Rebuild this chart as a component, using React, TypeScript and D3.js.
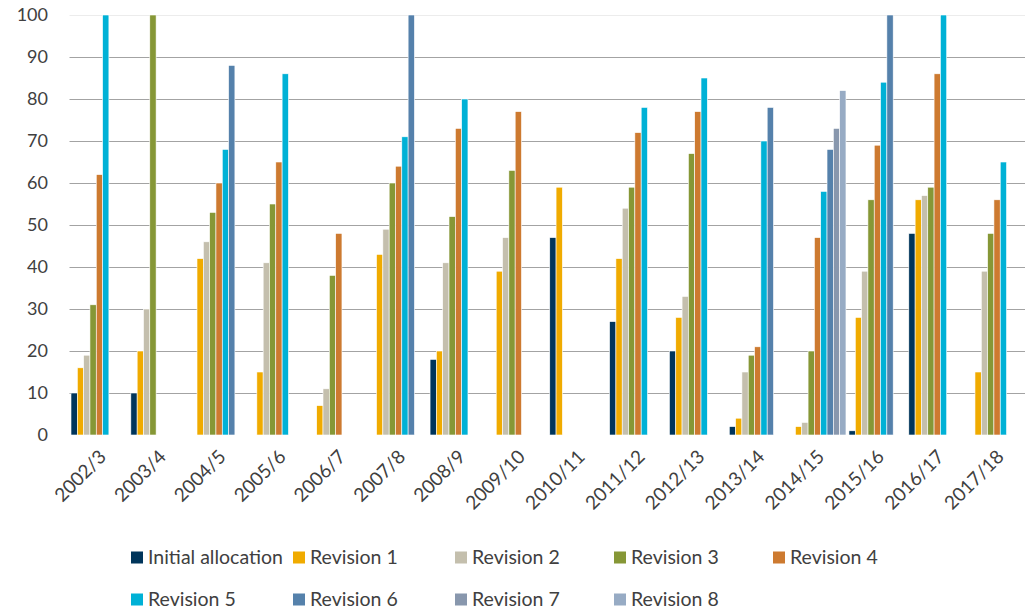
import { useEffect, useRef } from 'react';
import * as d3 from 'd3';

const categories = ['2002/3', '2003/4', '2004/5', '2005/6', '2006/7', '2007/8', '2008/9', '2009/10',
  '2010/11', '2011/12', '2012/13', '2013/14', '2014/15', '2015/16', '2016/17', '2017/18'];

const seriesNames = ['Initial allocation', 'Revision 1', 'Revision 2', 'Revision 3', 'Revision 4',
  'Revision 5', 'Revision 6', 'Revision 7', 'Revision 8'];

const seriesColors = ['#00355b', '#f0ab00', '#c4bfad', '#869736', '#cd7a30', '#00b1d6', '#5581ab', '#8897ad', '#97abc4'];

// 0 = no bar in that year
const initialAllocation = [10, 10, 0, 0, 0, 0, 18, 0, 47, 27, 20, 2, 0, 1, 48, 0];
const revision1 = [16, 20, 42, 15, 7, 43, 20, 39, 59, 42, 28, 4, 2, 28, 56, 15];
const revision2 = [19, 30, 46, 41, 11, 49, 41, 47, 0, 54, 33, 15, 3, 39, 57, 39];
const revision3 = [31, 100, 53, 55, 38, 60, 52, 63, 0, 59, 67, 19, 20, 56, 59, 48];
const revision4 = [62, 0, 60, 65, 48, 64, 73, 77, 0, 72, 77, 21, 47, 69, 86, 56];
const revision5 = [100, 0, 68, 86, 0, 71, 80, 0, 0, 78, 85, 70, 58, 84, 100, 65];
const revision6 = [0, 0, 88, 0, 0, 100, 0, 0, 0, 0, 0, 78, 68, 100, 0, 0];
const revision7 = [0, 0, 0, 0, 0, 0, 0, 0, 0, 0, 0, 0, 73, 0, 0, 0];
const revision8 = [0, 0, 0, 0, 0, 0, 0, 0, 0, 0, 0, 0, 82, 0, 0, 0];

const yTicks = [0, 10, 20, 30, 40, 50, 60, 70, 80, 90, 100];

const FONT = 'Lato, "Open Sans", sans-serif';
const TEXT = '#404040';

const App = () => {
  const svgRef = useRef<SVGSVGElement>(null);

  useEffect(() => {
    if (!svgRef.current) return;
    const svg = d3.select(svgRef.current);
    svg.selectAll('*').remove();

    const width = 1033;
    const height = 609;
    const left = 69.5;
    const right = 1027;
    const top = 15;
    const bottom = 435;

    const allSeries = [initialAllocation, revision1, revision2, revision3, revision4,
      revision5, revision6, revision7, revision8];

    svg.append('rect').attr('width', width).attr('height', height).attr('fill', '#fff');

    const x0 = d3.scaleBand<string>().domain(categories).range([left, right]).padding(0);
    const x1 = d3.scaleBand<number>()
      .domain(d3.range(seriesNames.length))
      .range([1.5, x0.bandwidth() - 1.5])
      .padding(0);
    const y = d3.scaleLinear().domain([0, 100]).range([bottom, top]);

    // gridlines
    svg.append('g')
      .selectAll('line')
      .data(yTicks.filter(t => t > 0))
      .enter()
      .append('line')
      .attr('x1', left)
      .attr('x2', 1025)
      .attr('y1', d => Math.round(y(d)) + 0.5)
      .attr('y2', d => Math.round(y(d)) + 0.5)
      .attr('stroke', d => (d === 100 ? '#ececec' : '#a3a3a3'))
      .attr('stroke-width', 1);

    // y labels
    svg.append('g')
      .selectAll('text')
      .data(yTicks)
      .enter()
      .append('text')
      .attr('x', 48)
      .attr('y', d => y(d))
      .attr('dy', '0.35em')
      .attr('text-anchor', 'end')
      .attr('font-family', FONT)
      .attr('font-size', '18px')
      .attr('fill', TEXT)
      .text(d => d);

    // bars
    const barData: { cat: string; s: number; v: number }[] = [];
    allSeries.forEach((vals, s) => {
      vals.forEach((v, i) => {
        if (v > 0) barData.push({ cat: categories[i], s, v });
      });
    });

    svg.append('g')
      .selectAll('rect')
      .data(barData)
      .enter()
      .append('rect')
      .attr('x', d => (x0(d.cat) as number) + (x1(d.s) as number))
      .attr('y', d => y(d.v))
      .attr('width', x1.bandwidth())
      .attr('height', d => y(0) - y(d.v))
      .attr('fill', d => seriesColors[d.s])
      .attr('stroke', '#fff')
      .attr('stroke-width', 0.6);

    // x labels
    svg.append('g')
      .selectAll('text')
      .data(categories)
      .enter()
      .append('text')
      .attr('transform', d => `translate(${(x0(d) as number) + x0.bandwidth() / 2 + 8},${458}) rotate(-45)`)
      .attr('text-anchor', 'end')
      .attr('font-family', FONT)
      .attr('font-size', '19px')
      .attr('fill', TEXT)
      .text(d => d);

    // legend
    const colX = [131, 293, 455, 614, 773];
    const rowY = [557.5, 599.5];
    const legend = svg.append('g')
      .selectAll('g')
      .data(seriesNames)
      .enter()
      .append('g')
      .attr('transform', (d, i) => `translate(${colX[i % 5]},${rowY[Math.floor(i / 5)]})`);

    legend.append('rect')
      .attr('x', 0)
      .attr('y', -6)
      .attr('width', 12)
      .attr('height', 12)
      .attr('fill', (d, i) => seriesColors[i]);

    legend.append('text')
      .attr('x', 17)
      .attr('y', 0)
      .attr('dy', '0.35em')
      .attr('font-family', FONT)
      .attr('font-size', '19.5px')
      .attr('fill', TEXT)
      .text(d => d);
  }, []);

  return (
    <div style={{ position: 'fixed', left: 0, top: 0 }}>
      <svg ref={svgRef} width={1033} height={609} viewBox="0 0 1033 609" style={{ display: 'block' }} />
    </div>
  );
};

export default App;
